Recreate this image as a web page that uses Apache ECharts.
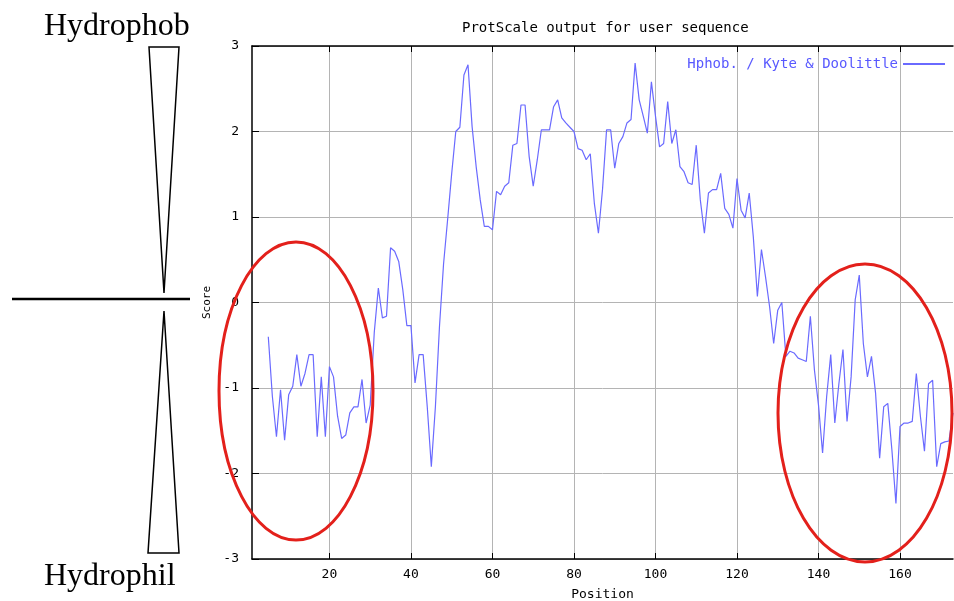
<!DOCTYPE html>
<html>
<head>
<meta charset="utf-8">
<title>ProtScale output</title>
<script src="https://cdn.jsdelivr.net/npm/echarts@6/dist/echarts.min.js"></script>
<style>
  html, body { margin: 0; padding: 0; background: #fff; }
  #chart { width: 954px; height: 601px; }
</style>
</head>
<body>
<div id="chart"></div>
<script>
// Kyte & Doolittle hydropathy scores, one per residue starting at position 5
const firstPosition = 5;
const scores = [
  -0.40, -1.10, -1.57, -1.02, -1.61, -1.08, -0.98, -0.61, -0.98, -0.83,
  -0.61, -0.61, -1.57, -0.87, -1.57, -0.75, -0.87, -1.33, -1.59, -1.55,
  -1.29, -1.22, -1.22, -0.90, -1.41, -1.20, -0.35, 0.17, -0.18, -0.16,
  0.64, 0.60, 0.48, 0.15, -0.27, -0.27, -0.94, -0.61, -0.61, -1.22,
  -1.92, -1.22, -0.28, 0.45, 0.97, 1.51, 2.00, 2.05, 2.66, 2.78,
  2.06, 1.59, 1.20, 0.89, 0.89, 0.85, 1.30, 1.26, 1.36, 1.40,
  1.84, 1.86, 2.31, 2.31, 1.71, 1.36, 1.67, 2.02, 2.02, 2.02,
  2.29, 2.37, 2.16, 2.10, 2.05, 2.00, 1.80, 1.78, 1.67, 1.74,
  1.16, 0.81, 1.32, 2.02, 2.02, 1.57, 1.86, 1.94, 2.10, 2.14,
  2.80, 2.37, 2.18, 1.98, 2.58, 2.18, 1.82, 1.86, 2.35, 1.86,
  2.02, 1.59, 1.53, 1.40, 1.38, 1.84, 1.20, 0.81, 1.28, 1.32,
  1.32, 1.51, 1.10, 1.03, 0.87, 1.45, 1.08, 0.99, 1.28, 0.77,
  0.07, 0.62, 0.30, -0.05, -0.48, -0.09, 0.00, -0.63, -0.57, -0.59,
  -0.65, -0.67, -0.69, -0.16, -0.79, -1.20, -1.76, -1.10, -0.61, -1.41,
  -0.95, -0.55, -1.39, -0.87, 0.03, 0.32, -0.48, -0.87, -0.63, -1.06,
  -1.82, -1.22, -1.18, -1.72, -2.35, -1.45, -1.41, -1.41, -1.39, -0.83,
  -1.33, -1.74, -0.95, -0.91, -1.92, -1.65, -1.63, -1.62, -1.29
];
const positions = scores.map((_, i) => firstPosition + i);
const xTicks = [20, 40, 60, 80, 100, 120, 140, 160];

const mono = 'DejaVu Sans Mono';
const chart = echarts.init(document.getElementById('chart'), null, { renderer: 'canvas' });

const option = {
  animation: false,
  backgroundColor: '#fff',
  title: {
    text: 'ProtScale output for user sequence',
    left: 457,
    top: 16,
    textStyle: { fontFamily: mono, fontSize: 14, fontWeight: 'normal', color: '#000' }
  },
  legend: {
    right: 3,
    top: 52,
    align: 'right',
    itemWidth: 42,
    itemHeight: 12,
    itemStyle: { opacity: 0 },
    textStyle: { fontFamily: mono, fontSize: 14, color: '#5858ff' },
    data: ['Hphob. / Kyte & Doolittle']
  },
  grid: { left: 252, right: 1, top: 46, bottom: 42, outerBoundsMode: 'none' },
  xAxis: [
    {
      type: 'value',
      min: 1,
      max: 173,
      name: 'Position',
      nameLocation: 'middle',
      nameGap: 29,
      nameTextStyle: { fontFamily: mono, fontSize: 13, color: '#000' },
      axisLine: { onZero: false, lineStyle: { color: '#000', width: 1.5 } },
      axisTick: { inside: true, length: 6, customValues: xTicks, lineStyle: { color: '#000' } },
      axisLabel: { customValues: xTicks, fontFamily: mono, fontSize: 13, color: '#000', margin: 9 },
      splitLine: { show: true, lineStyle: { color: '#b4b4b4', width: 1 } }
    },
    {
      type: 'value',
      position: 'top',
      min: 1,
      max: 173,
      axisLine: { onZero: false, lineStyle: { color: '#000', width: 1.5 } },
      axisTick: { inside: true, length: 6, customValues: xTicks, lineStyle: { color: '#000' } },
      axisLabel: { show: false },
      splitLine: { show: false }
    }
  ],
  yAxis: {
    type: 'value',
    min: -3,
    max: 3,
    interval: 1,
    name: 'Score',
    nameLocation: 'middle',
    nameGap: 36,
    nameRotate: 90,
    nameTextStyle: { fontFamily: mono, fontSize: 11, color: '#000' },
    axisLine: { show: true, onZero: false, lineStyle: { color: '#000', width: 1.5 } },
    axisTick: { show: true, inside: true, length: 7, lineStyle: { color: '#000' } },
    axisLabel: { fontFamily: mono, fontSize: 13, color: '#000', margin: 13 },
    splitLine: { show: true, lineStyle: { color: '#b4b4b4', width: 1 } }
  },
  series: [
    {
      name: 'Hphob. / Kyte & Doolittle',
      type: 'line',
      symbol: 'none',
      lineStyle: { color: '#6a6aff', width: 1.2 },
      itemStyle: { color: '#6a6aff' },
      data: positions.map((p, i) => [p, scores[i]])
    }
  ],
  graphic: [
    // hydrophobic / hydrophilic scale on the left
    {
      type: 'text', left: 44, top: 11,
      style: { text: 'Hydrophob', font: '32px "Liberation Serif"', fill: '#000' }
    },
    {
      type: 'text', left: 44, top: 561,
      style: { text: 'Hydrophil', font: '32px "Liberation Serif"', fill: '#000' }
    },
    {
      type: 'polygon',
      shape: { points: [[149, 47], [179, 47], [164, 293]] },
      style: { fill: 'none', stroke: '#000', lineWidth: 1.5 }
    },
    {
      type: 'polygon',
      shape: { points: [[164, 311], [179, 553], [148, 553]] },
      style: { fill: 'none', stroke: '#000', lineWidth: 1.5 }
    },
    {
      type: 'line',
      shape: { x1: 12, y1: 299, x2: 190, y2: 299 },
      style: { stroke: '#000', lineWidth: 2.5 }
    },
    // red highlight rings
    {
      type: 'ellipse', z: 100,
      shape: { cx: 296, cy: 391, rx: 77, ry: 149 },
      style: { fill: 'none', stroke: '#e3201b', lineWidth: 3 }
    },
    {
      type: 'ellipse', z: 100,
      shape: { cx: 865, cy: 413, rx: 87, ry: 149 },
      style: { fill: 'none', stroke: '#e3201b', lineWidth: 3 }
    }
  ]
};

chart.setOption(option);
window.addEventListener('resize', () => chart.resize());
</script>
</body>
</html>
